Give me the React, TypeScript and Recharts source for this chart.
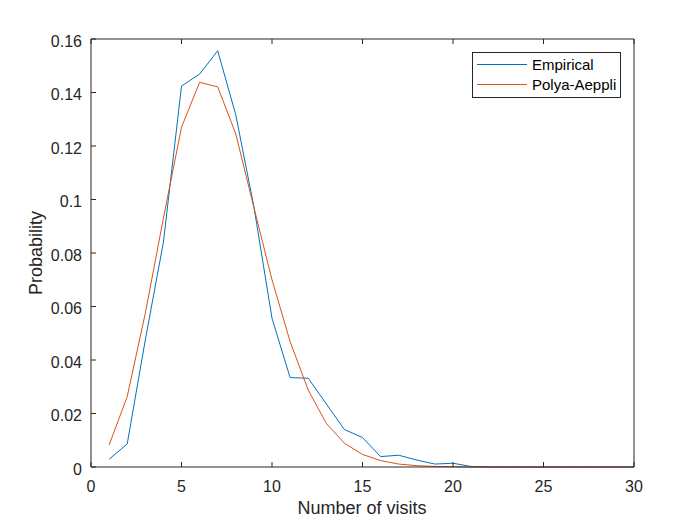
import React from "react";
import { LineChart, Line, XAxis, YAxis } from "recharts";

// number of visits (x) and the two probability series
const visits = [1, 2, 3, 4, 5, 6, 7, 8, 9, 10, 11, 12, 13, 14, 15, 16, 17, 18, 19, 20, 21, 22, 23, 24, 25, 26, 27, 28, 29, 30];
const empirical = [
  0.0029, 0.0086, 0.0475, 0.084, 0.1424, 0.1469, 0.1556, 0.1316, 0.0973, 0.0556,
  0.0334, 0.0332, 0.0236, 0.014, 0.011, 0.0039, 0.0044, 0.0026, 0.0011, 0.0014,
  0.0002, 0, 0, 0, 0, 0, 0, 0, 0, 0,
];
const polyaAeppli = [
  0.0082, 0.0263, 0.0575, 0.093, 0.127, 0.1438, 0.1421, 0.1245, 0.097, 0.07,
  0.0469, 0.0288, 0.0163, 0.0089, 0.0047, 0.0024, 0.0011, 0.0005, 0.0002, 0.0001,
  0, 0, 0, 0, 0, 0, 0, 0, 0, 0,
];
const xTicks = [0, 5, 10, 15, 20, 25, 30];
const yTicks = [0, 0.02, 0.04, 0.06, 0.08, 0.1, 0.12, 0.14, 0.16];

const data = visits.map((v, i) => ({ v, emp: empirical[i], pa: polyaAeppli[i] }));

const BLUE = "#0072BD";
const ORANGE = "#D95319";
const INK = "#262626";
const font = "'Liberation Sans', Arial, sans-serif";
const TICK_FS = 16;

const fmtY = (v: number) => String(Number(v.toFixed(2)));

// MATLAB-style ticks: short marks pointing into the plot, labels outside
const BottomTick = (p: any) => (
  <g>
    <line x1={p.x} x2={p.x} y1={p.y} y2={p.y - 5} stroke={INK} />
    <text x={p.x} y={p.y + 25} textAnchor="middle" fill={INK} fontSize={TICK_FS} fontFamily={font}>
      {p.payload.value}
    </text>
  </g>
);
const LeftTick = (p: any) => (
  <g>
    <line x1={p.x} x2={p.x + 5} y1={p.y} y2={p.y} stroke={INK} />
    <text x={p.x - 9} y={p.y + 7.5} textAnchor="end" fill={INK} fontSize={TICK_FS} fontFamily={font}>
      {fmtY(p.payload.value)}
    </text>
  </g>
);
const TopTick = (p: any) => <line x1={p.x} x2={p.x} y1={p.y} y2={p.y + 5} stroke={INK} />;
const RightTick = (p: any) => <line x1={p.x} x2={p.x - 5} y1={p.y} y2={p.y} stroke={INK} />;

export default function App() {
  return (
    <div style={{ position: "relative", width: 684, height: 509, background: "#fff" }}>
      <LineChart
        width={684}
        height={509}
        data={data}
        margin={{ top: 30, right: 57, bottom: 20, left: 0 }}
      >
        <XAxis
          xAxisId="b"
          dataKey="v"
          type="number"
          domain={[0, 30]}
          ticks={xTicks}
          height={30}
          tickSize={0}
          tickMargin={0}
          tickLine={false}
          tick={BottomTick}
          axisLine={{ stroke: INK }}
        />
        <XAxis
          xAxisId="t"
          orientation="top"
          dataKey="v"
          type="number"
          domain={[0, 30]}
          ticks={xTicks}
          height={1}
          tickSize={0}
          tickMargin={0}
          tickLine={false}
          tick={TopTick}
          axisLine={{ stroke: INK }}
        />
        <YAxis
          yAxisId="l"
          type="number"
          domain={[0, 0.16]}
          ticks={yTicks}
          width={83}
          tickSize={0}
          tickMargin={0}
          tickLine={false}
          tick={LeftTick}
          axisLine={{ stroke: INK }}
        />
        <YAxis
          yAxisId="r"
          orientation="right"
          type="number"
          domain={[0, 0.16]}
          ticks={yTicks}
          width={1}
          tickSize={0}
          tickMargin={0}
          tickLine={false}
          tick={RightTick}
          axisLine={{ stroke: INK }}
        />
        <Line
          xAxisId="b"
          yAxisId="l"
          dataKey="emp"
          type="linear"
          stroke={BLUE}
          strokeWidth={1}
          dot={false}
          isAnimationActive={false}
        />
        <Line
          xAxisId="b"
          yAxisId="l"
          dataKey="pa"
          type="linear"
          stroke={ORANGE}
          strokeWidth={1}
          dot={false}
          isAnimationActive={false}
        />
      </LineChart>
      <div
        style={{
          position: "absolute",
          left: 28,
          top: 245,
          transform: "translate(-50%, -50%) rotate(-90deg)",
          fontFamily: font,
          fontSize: 18,
          lineHeight: "normal",
          color: INK,
          whiteSpace: "nowrap",
        }}
      >
        Probability
      </div>
      <div
        style={{
          position: "absolute",
          left: 354,
          top: 490,
          transform: "translateX(-50%)",
          fontFamily: font,
          fontSize: 18,
          lineHeight: "normal",
          color: INK,
          whiteSpace: "nowrap",
        }}
      >
        Number of visits
      </div>
      <div
        style={{
          position: "absolute",
          left: 464,
          top: 44,
          width: 147,
          height: 44,
          border: `1px solid ${INK}`,
          background: "#fff",
          fontFamily: font,
          fontSize: 15,
          color: "#000",
        }}
      >
        {[
          { name: "Empirical", color: BLUE },
          { name: "Polya-Aeppli", color: ORANGE },
        ].map((it, i) => (
          <div
            key={it.name}
            style={{ position: "absolute", left: 4, top: 11 + i * 20.5 - 9, display: "flex", alignItems: "center", height: 18 }}
          >
            <span style={{ display: "inline-block", width: 50, height: 0, borderTop: `1px solid ${it.color}`, marginRight: 5 }} />
            <span>{it.name}</span>
          </div>
        ))}
      </div>
    </div>
  );
}
